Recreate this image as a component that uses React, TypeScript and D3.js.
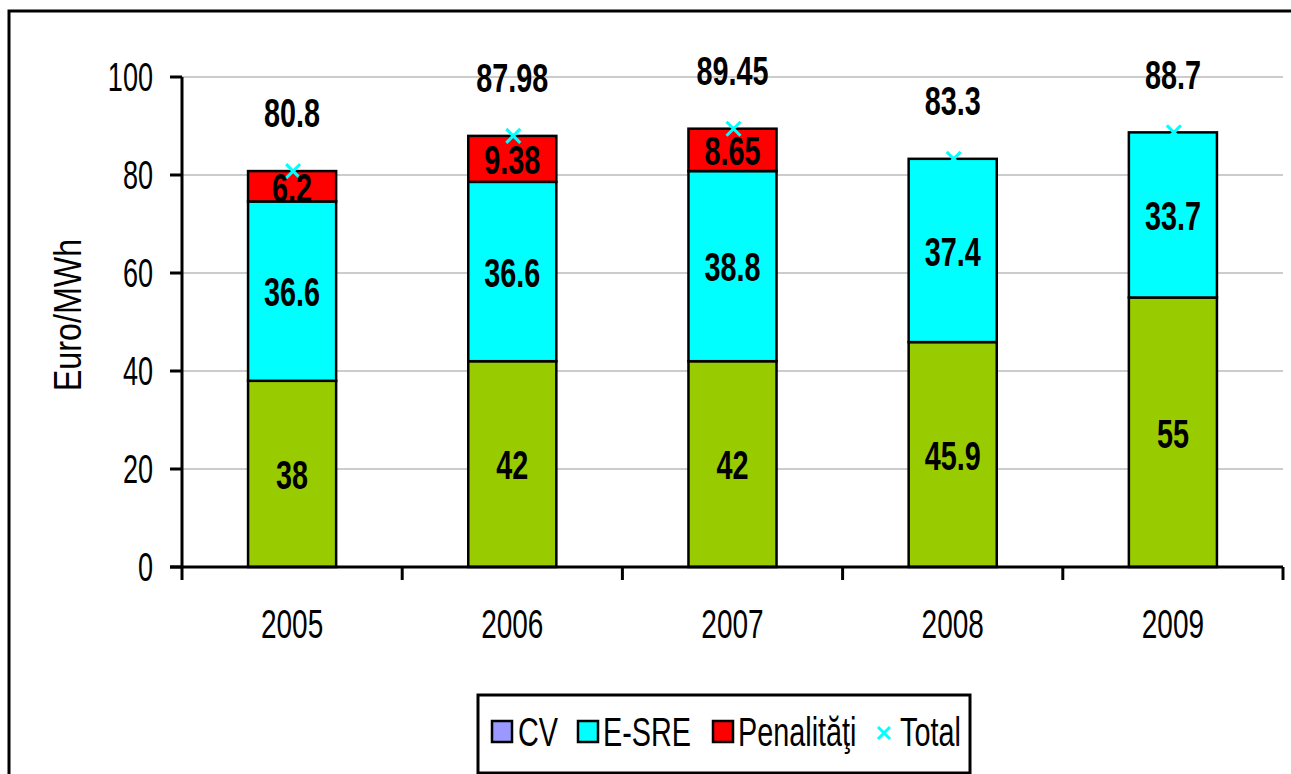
import React, { useEffect, useRef } from 'react';
import * as d3 from 'd3';

const years = ['2005', '2006', '2007', '2008', '2009'];
const cvValues = [38, 42, 42, 45.9, 55];
const esreValues = [36.6, 36.6, 38.8, 37.4, 33.7];
const penaltyValues = [6.2, 9.38, 8.65, 0, 0];
const totalValues = [80.8, 87.98, 89.45, 83.3, 88.7];
const yTicks = [0, 20, 40, 60, 80, 100];

const seriesNames = ['CV', 'E-SRE', 'Penalităţi'];
const legendNames = ['CV', 'E-SRE', 'Penalităţi', 'Total'];

const FONT = "'Liberation Sans', Arial, sans-serif";

export default function App() {
  const ref = useRef<SVGSVGElement>(null);

  useEffect(() => {
    const svg = d3.select(ref.current);
    svg.selectAll('*').remove();

    const W = 1291, H = 774;
    const left = 182, right = 1283, top = 77, bottom = 567;

    const x = d3.scaleBand().domain(years).range([left, right]).padding(0);
    const y = d3.scaleLinear().domain([0, 100]).range([bottom, top]);
    const barW = x.bandwidth() * 0.4;

    // condensed text helper
    const txt = (g: any, tx: number, ty: number, s: string, size: number, opts: any = {}) => {
      const sx = opts.sx ?? 0.7;
      const rot = opts.rotate ? ' rotate(-90)' : '';
      return g
        .append('text')
        .attr('transform', 'translate(' + tx + ',' + ty + ')' + rot + ' scale(' + sx + ',1)')
        .attr('font-family', FONT)
        .attr('font-size', size)
        .attr('font-weight', opts.bold ? 'bold' : 'normal')
        .attr('text-anchor', opts.anchor ?? 'middle')
        .attr('dominant-baseline', 'central')
        .attr('fill', '#000')
        .text(s);
    };

    svg.append('rect').attr('width', W).attr('height', H).attr('fill', '#fff');

    // outer chart frame
    svg
      .append('rect')
      .attr('x', 9)
      .attr('y', 11)
      .attr('width', W + 20)
      .attr('height', H + 20)
      .attr('fill', 'none')
      .attr('stroke', '#000')
      .attr('stroke-width', 3);

    // gridlines
    svg
      .append('g')
      .selectAll('line')
      .data(yTicks.slice(1))
      .enter()
      .append('line')
      .attr('x1', left)
      .attr('x2', right)
      .attr('y1', (d) => y(d))
      .attr('y2', (d) => y(d))
      .attr('stroke', '#999')
      .attr('stroke-width', 1.2);

    // stacked bars
    const stackData = years.map((yr, i) => ({
      year: yr,
      CV: cvValues[i],
      'E-SRE': esreValues[i],
      'Penalităţi': penaltyValues[i],
    }));
    const stack = d3.stack<any>().keys(seriesNames)(stackData);
    const color = d3.scaleOrdinal<string>().domain(seriesNames).range(['#99CC00', '#00FFFF', '#FF0000']);

    const layers = svg
      .append('g')
      .selectAll('g')
      .data(stack)
      .enter()
      .append('g')
      .attr('fill', (d) => color(d.key));

    layers
      .selectAll('rect')
      .data((d) => d.filter((p) => p[1] - p[0] > 0))
      .enter()
      .append('rect')
      .attr('x', (d: any) => x(d.data.year)! + (x.bandwidth() - barW) / 2)
      .attr('y', (d: any) => y(d[1]))
      .attr('width', barW)
      .attr('height', (d: any) => y(d[0]) - y(d[1]))
      .attr('stroke', '#000')
      .attr('stroke-width', 2.5);

    // total markers
    const mk = 7;
    totalValues.forEach((v, i) => {
      const cx = x(years[i])! + x.bandwidth() / 2 + 1;
      const cy = y(v);
      svg
        .append('path')
        .attr('d', `M${cx - mk},${cy - mk}L${cx + mk},${cy + mk}M${cx - mk},${cy + mk}L${cx + mk},${cy - mk}`)
        .attr('stroke', '#00FFFF')
        .attr('stroke-width', 3);
    });

    // segment labels
    const labels = svg.append('g');
    stack.forEach((layer) => {
      layer.forEach((p: any) => {
        const v = p[1] - p[0];
        if (v <= 0) return;
        const cx = x(p.data.year)! + x.bandwidth() / 2;
        txt(labels, cx, y((p[0] + p[1]) / 2) + 1, String(+v.toFixed(2)), 40, { bold: true, sx: 0.72 });
      });
    });

    // total labels
    totalValues.forEach((v, i) => {
      const cx = x(years[i])! + x.bandwidth() / 2;
      txt(labels, cx, y(v) - 58, String(v), 40, { bold: true, sx: 0.72 });
    });

    // axes
    const axis = svg.append('g').attr('stroke', '#000');
    axis
      .append('line')
      .attr('x1', left)
      .attr('x2', left)
      .attr('y1', top)
      .attr('y2', bottom)
      .attr('stroke-width', 3);
    axis
      .append('line')
      .attr('x1', left - 12)
      .attr('x2', right)
      .attr('y1', bottom)
      .attr('y2', bottom)
      .attr('stroke-width', 3);
    yTicks.forEach((t) => {
      axis
        .append('line')
        .attr('x1', left - 12)
        .attr('x2', left)
        .attr('y1', y(t))
        .attr('y2', y(t))
        .attr('stroke-width', 3);
      txt(svg, 153, y(t), String(t), 41, { anchor: 'end', sx: 0.66 });
    });
    const xEdges = years.map((yr) => x(yr)!).concat([right]);
    xEdges.forEach((ex) => {
      axis
        .append('line')
        .attr('x1', ex)
        .attr('x2', ex)
        .attr('y1', bottom)
        .attr('y2', bottom + 13)
        .attr('stroke-width', 3);
    });
    years.forEach((yr) => {
      txt(svg, x(yr)! + x.bandwidth() / 2, 624, yr, 40, { sx: 0.7 });
    });

    // y title
    txt(svg, 68, 315, 'Euro/MWh', 38, { rotate: true, sx: 0.85 });

    // legend
    const lg = svg.append('g');
    lg.append('rect')
      .attr('x', 478)
      .attr('y', 695)
      .attr('width', 492)
      .attr('height', 78)
      .attr('fill', '#fff')
      .attr('stroke', '#000')
      .attr('stroke-width', 3);
    const legendColors = ['#9999FF', '#00FFFF', '#FF0000'];
    const swatchX = [492, 578, 713];
    const textX = [518, 603, 738];
    legendNames.slice(0, 3).forEach((n, i) => {
      lg.append('rect')
        .attr('x', swatchX[i])
        .attr('y', 721)
        .attr('width', 20)
        .attr('height', 21)
        .attr('fill', legendColors[i])
        .attr('stroke', '#000')
        .attr('stroke-width', 2.5);
      txt(lg, textX[i], 732, n, 40, { anchor: 'start', sx: 0.72 });
    });
    const lx = 884, ly = 733, lm = 6;
    lg.append('path')
      .attr('d', `M${lx - lm},${ly - lm}L${lx + lm},${ly + lm}M${lx - lm},${ly + lm}L${lx + lm},${ly - lm}`)
      .attr('stroke', '#00FFFF')
      .attr('stroke-width', 3);
    txt(lg, 900, 732, legendNames[3], 40, { anchor: 'start', sx: 0.72 });
  }, []);

  return (
    <div style={{ position: 'absolute', left: 0, top: 0 }}>
      <svg ref={ref} width={1291} height={774} style={{ display: 'block' }} />
    </div>
  );
}
